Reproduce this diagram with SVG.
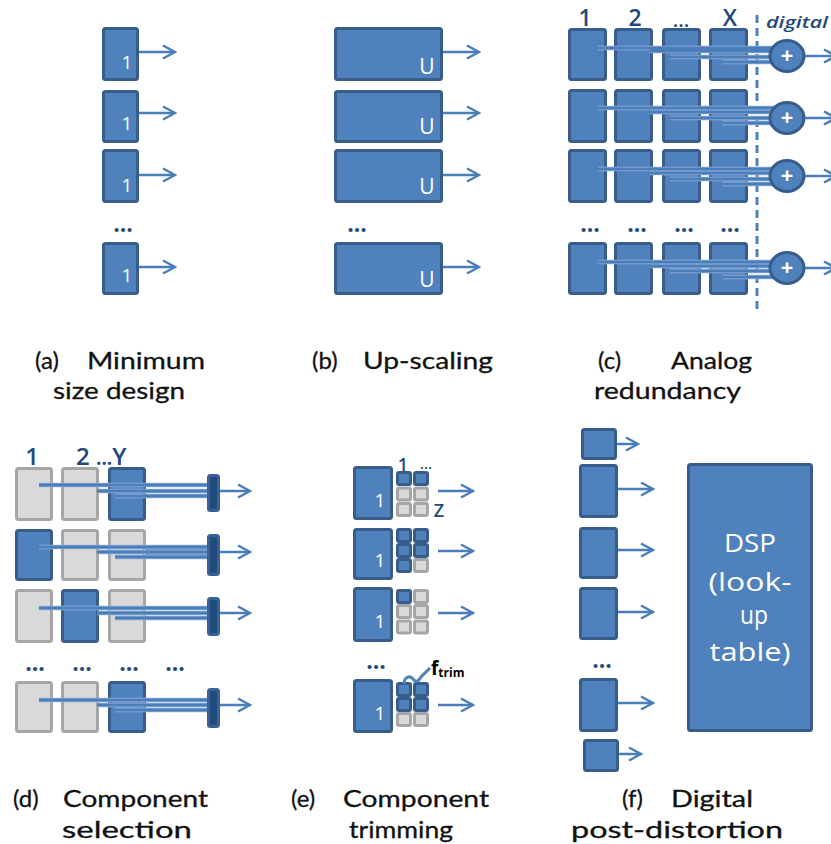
<svg xmlns="http://www.w3.org/2000/svg" width="831" height="844" viewBox="0 0 831 844">
<defs>
<marker id="ah" markerUnits="userSpaceOnUse" markerWidth="16" markerHeight="16" viewBox="0 0 16 16" refX="14" refY="8" orient="auto">
<path d="M2,1.5 L14,8 L2,14.5" fill="none" stroke="#4a7ebb" stroke-width="2.5" stroke-linejoin="miter"/>
</marker>
</defs>
<style>
.box{fill:#4f81bd;stroke:#385d8a;stroke-width:3}
.gbox{fill:#d9d9d9;stroke:#a6a6a6;stroke-width:3}
.bar{fill:#234a7e;stroke:#3a6196;stroke-width:3}
.sum{fill:#4f81bd;stroke:#385d8a;stroke-width:3}
.arr{stroke:#4a7ebb;stroke-width:2.5;fill:none;marker-end:url(#ah)}
.wu{stroke:#9bb5da;stroke-width:4.5;fill:none}
.w{stroke:#4a7ebb;stroke-width:3;fill:none}
.lbl{font-family:"Open Sans","Liberation Sans",sans-serif;fill:#1f497d;font-weight:600}
.in{font-family:"Open Sans","Liberation Sans",sans-serif;fill:#ffffff}
.dots{font-family:"Open Sans","Liberation Sans",sans-serif;font-weight:bold;fill:#1f497d;font-size:23px}
.cap{font-family:Lato,"Open Sans","Liberation Sans",sans-serif;font-size:24px;font-weight:normal;fill:#111111;stroke:#111111;stroke-width:0.3}
</style>

<!-- (a) Minimum size design -->
<g id="panel-a">
<g id="a1"><rect class="box" x="103.5" y="28.5" width="34" height="51" rx="2"/><text class="in" x="127" y="69" font-size="19" text-anchor="middle">1</text></g>
<g id="a2"><rect class="box" x="103.5" y="91.5" width="34" height="50" rx="2"/><text class="in" x="127" y="130" font-size="19" text-anchor="middle">1</text></g>
<g id="a3"><rect class="box" x="103.5" y="150.5" width="34" height="51" rx="2"/><text class="in" x="127" y="192" font-size="19" text-anchor="middle">1</text></g>
<text class="dots" x="123" y="232" text-anchor="middle">...</text>
<g id="a4"><rect class="box" x="103.5" y="243.5" width="34" height="50" rx="2"/><text class="in" x="127" y="282" font-size="19" text-anchor="middle">1</text></g>
</g>

<!-- (b) Up-scaling -->
<g id="panel-b">
<g id="b1"><rect class="box" x="335.5" y="28.5" width="106" height="51" rx="2"/><text class="in" x="427" y="74" font-size="21" text-anchor="middle">U</text></g>
<g id="b2"><rect class="box" x="335.5" y="91.5" width="106" height="50" rx="2"/><text class="in" x="427" y="134" font-size="21" text-anchor="middle">U</text></g>
<g id="b3"><rect class="box" x="335.5" y="150.5" width="106" height="51" rx="2"/><text class="in" x="427" y="194" font-size="21" text-anchor="middle">U</text></g>
<text class="dots" x="357" y="232" text-anchor="middle">...</text>
<g id="b4"><rect class="box" x="335.5" y="243.5" width="106" height="50" rx="2"/><text class="in" x="427" y="287" font-size="21" text-anchor="middle">U</text></g>
</g>

<!-- (c) Analog redundancy -->
<g id="panel-c">
<text class="lbl" x="585" y="26" font-size="23" text-anchor="middle">1</text>
<text class="lbl" x="635" y="26" font-size="23" text-anchor="middle">2</text>
<text class="lbl" x="681" y="27" font-size="20" font-weight="bold" text-anchor="middle">...</text>
<text class="lbl" x="730" y="26" font-size="23" text-anchor="middle">X</text>
<text class="lbl" x="766" y="28" font-size="17" font-weight="bold" font-style="italic" textLength="62" lengthAdjust="spacingAndGlyphs">digital</text>
<g id="c-r1">
<rect class="box" x="569.5" y="29.5" width="36" height="50" rx="2"/><rect class="box" x="615.5" y="29.5" width="36" height="50" rx="2"/><rect class="box" x="663.5" y="29.5" width="36" height="50" rx="2"/><rect class="box" x="710.5" y="29.5" width="36" height="50" rx="2"/>
</g>
<g id="c-r2">
<rect class="box" x="569.5" y="90.5" width="36" height="51" rx="2"/><rect class="box" x="615.5" y="90.5" width="36" height="51" rx="2"/><rect class="box" x="663.5" y="90.5" width="36" height="51" rx="2"/><rect class="box" x="710.5" y="90.5" width="36" height="51" rx="2"/>
</g>
<g id="c-r3">
<rect class="box" x="569.5" y="150.5" width="36" height="51" rx="2"/><rect class="box" x="615.5" y="150.5" width="36" height="51" rx="2"/><rect class="box" x="663.5" y="150.5" width="36" height="51" rx="2"/><rect class="box" x="710.5" y="150.5" width="36" height="51" rx="2"/>
</g>
<text class="dots" x="590" y="232" text-anchor="middle">...</text>
<text class="dots" x="637" y="232" text-anchor="middle">...</text>
<text class="dots" x="684" y="232" text-anchor="middle">...</text>
<text class="dots" x="730" y="232" text-anchor="middle">...</text>
<g id="c-r4">
<rect class="box" x="569.5" y="243.5" width="36" height="50" rx="2"/><rect class="box" x="615.5" y="243.5" width="36" height="50" rx="2"/><rect class="box" x="663.5" y="243.5" width="36" height="50" rx="2"/><rect class="box" x="710.5" y="243.5" width="36" height="50" rx="2"/>
</g>
<line x1="757" y1="15" x2="757" y2="313" stroke="#4f81bd" stroke-width="3" stroke-dasharray="8 5"/>
</g>

<!-- (d) Component selection -->
<g id="panel-d">
<text class="lbl" x="32" y="465" font-size="24" text-anchor="middle">1</text>
<text class="lbl" x="76" y="465" font-size="24">2 <tspan font-size="19" font-weight="bold">...</tspan>Y</text>
<g id="d-r1"><rect class="gbox" x="16.5" y="468.5" width="35" height="51" rx="2"/><rect class="gbox" x="62.5" y="468.5" width="35" height="51" rx="2"/><rect class="box" x="109.5" y="468.5" width="35" height="51" rx="2"/></g>
<g id="d-r2"><rect class="box" x="16.5" y="530.5" width="35" height="49" rx="2"/><rect class="gbox" x="62.5" y="530.5" width="35" height="49" rx="2"/><rect class="gbox" x="109.5" y="530.5" width="35" height="49" rx="2"/></g>
<g id="d-r3"><rect class="gbox" x="16.5" y="590.5" width="35" height="51" rx="2"/><rect class="box" x="62.5" y="590.5" width="35" height="51" rx="2"/><rect class="gbox" x="109.5" y="590.5" width="35" height="51" rx="2"/></g>
<text class="dots" x="35" y="671" text-anchor="middle">...</text>
<text class="dots" x="82" y="671" text-anchor="middle">...</text>
<text class="dots" x="129" y="671" text-anchor="middle">...</text>
<text class="dots" x="175" y="671" text-anchor="middle">...</text>
<g id="d-r4"><rect class="gbox" x="16.5" y="682.5" width="35" height="49" rx="2"/><rect class="gbox" x="62.5" y="682.5" width="35" height="49" rx="2"/><rect class="box" x="109.5" y="682.5" width="35" height="49" rx="2"/></g>
</g>

<!-- (e) Component trimming -->
<g id="panel-e">
<text class="lbl" x="403" y="471" font-size="18" text-anchor="middle">1</text>
<text class="lbl" x="426" y="469" font-size="15" font-weight="bold" text-anchor="middle">...</text>
<g id="e1">
<rect class="box" x="354.5" y="467.5" width="37" height="51" rx="2"/><text class="in" x="380" y="507" font-size="19" text-anchor="middle">1</text>
<rect class="box" x="397.5" y="472.5" width="13" height="12" rx="1.5"/><rect class="box" x="414.5" y="472.5" width="13" height="12" rx="1.5"/>
<rect class="gbox" x="397.5" y="488" width="13" height="12" rx="1.5"/><rect class="gbox" x="414.5" y="488" width="13" height="12" rx="1.5"/>
<rect class="gbox" x="397.5" y="503.5" width="13" height="12" rx="1.5"/><rect class="gbox" x="414.5" y="503.5" width="13" height="12" rx="1.5"/>
</g>
<text class="lbl" x="439" y="517" font-size="18" text-anchor="middle">Z</text>
<g id="e2">
<rect class="box" x="354.5" y="529.5" width="37" height="49" rx="2"/><text class="in" x="380" y="567" font-size="19" text-anchor="middle">1</text>
<rect class="box" x="397.5" y="529.5" width="13" height="12" rx="1.5"/><rect class="box" x="414.5" y="529.5" width="13" height="12" rx="1.5"/>
<rect class="box" x="397.5" y="544.5" width="13" height="12" rx="1.5"/><rect class="box" x="414.5" y="544.5" width="13" height="12" rx="1.5"/>
<rect class="box" x="397.5" y="559.5" width="13" height="12" rx="1.5"/><rect class="gbox" x="414.5" y="559.5" width="13" height="12" rx="1.5"/>
</g>
<g id="e3">
<rect class="box" x="354.5" y="588.5" width="37" height="52" rx="2"/><text class="in" x="380" y="628" font-size="19" text-anchor="middle">1</text>
<rect class="box" x="397.5" y="590.5" width="13" height="12" rx="1.5"/><rect class="gbox" x="414.5" y="590.5" width="13" height="12" rx="1.5"/>
<rect class="gbox" x="397.5" y="605.5" width="13" height="12" rx="1.5"/><rect class="gbox" x="414.5" y="605.5" width="13" height="12" rx="1.5"/>
<rect class="gbox" x="397.5" y="621" width="13" height="12" rx="1.5"/><rect class="gbox" x="414.5" y="621" width="13" height="12" rx="1.5"/>
</g>
<text class="dots" x="376" y="669" text-anchor="middle">...</text>
<g id="e4">
<rect class="box" x="354.5" y="680.5" width="37" height="51" rx="2"/><text class="in" x="380" y="720" font-size="19" text-anchor="middle">1</text>
<rect class="box" x="397.5" y="683.5" width="13" height="12" rx="1.5"/><rect class="box" x="414.5" y="683.5" width="13" height="12" rx="1.5"/>
<rect class="box" x="397.5" y="698.5" width="13" height="12" rx="1.5"/><rect class="box" x="414.5" y="698.5" width="13" height="12" rx="1.5"/>
<rect class="gbox" x="397.5" y="713.5" width="13" height="12" rx="1.5"/><rect class="gbox" x="414.5" y="713.5" width="13" height="12" rx="1.5"/>
</g>
<path d="M404,684 C404,677 410,675 413,679 C416,683 419,681 421,677 L430,668" fill="none" stroke="#4f81bd" stroke-width="3"/>
<text x="431" y="675" font-family="'Open Sans','Liberation Sans',sans-serif" font-weight="bold" font-size="19" fill="#000">f<tspan font-size="12" dy="2">trim</tspan></text>
</g>

<!-- (f) Digital post-distortion -->
<g id="panel-f">
<g id="f1"><rect class="box" x="582.5" y="429.5" width="33" height="29" rx="2"/></g>
<g id="f2"><rect class="box" x="580.5" y="465.5" width="36" height="51" rx="2"/></g>
<g id="f3"><rect class="box" x="580.5" y="528.5" width="36" height="49" rx="2"/></g>
<g id="f4"><rect class="box" x="580.5" y="588.5" width="36" height="50" rx="2"/></g>
<text class="dots" x="602" y="668" text-anchor="middle">...</text>
<g id="f5"><rect class="box" x="580.5" y="679.5" width="36" height="51" rx="2"/></g>
<g id="f6"><rect class="box" x="584.5" y="740.5" width="33" height="30" rx="2"/></g>
<g id="dsp">
<rect class="box" x="688.5" y="464.5" width="123" height="266" rx="2"/>
<text class="in" x="750" y="552" font-size="25" text-anchor="middle" textLength="52" lengthAdjust="spacingAndGlyphs">DSP</text>
<text class="in" x="750" y="591" font-size="25" text-anchor="middle" textLength="83" lengthAdjust="spacingAndGlyphs">(look-</text>
<text class="in" x="754" y="624" font-size="25" text-anchor="middle" textLength="28" lengthAdjust="spacingAndGlyphs">up</text>
<text class="in" x="750" y="661" font-size="25" text-anchor="middle" textLength="81" lengthAdjust="spacingAndGlyphs">table)</text>
</g>
</g>

<!-- connectors -->
<g id="connectors">
<line class="arr" x1="139" y1="52" x2="175" y2="52"/>
<line class="arr" x1="139" y1="113" x2="175" y2="113"/>
<line class="arr" x1="139" y1="175" x2="175" y2="175"/>
<line class="arr" x1="139" y1="267" x2="175" y2="267"/>
<line class="arr" x1="443" y1="52" x2="479" y2="52"/>
<line class="arr" x1="443" y1="113" x2="479" y2="113"/>
<line class="arr" x1="443" y1="175" x2="479" y2="175"/>
<line class="arr" x1="443" y1="267" x2="479" y2="267"/>
<g>
<path class="wu" d="M598,48H775M650,51H775M670,57H775M722,62H775"/>
<path class="w" d="M598,48H775M650,51H775M670,57H775M722,62H775"/>
<path class="wu" d="M598,108H775M650,112H775M670,118H775M722,123H775"/>
<path class="w" d="M598,108H775M650,112H775M670,118H775M722,123H775"/>
<path class="wu" d="M598,169H775M650,173H775M670,179H775M722,184H775"/>
<path class="w" d="M598,169H775M650,173H775M670,179H775M722,184H775"/>
<path class="wu" d="M598,262H775M650,266H775M670,271H775M722,277H775"/>
<path class="w" d="M598,262H775M650,266H775M670,271H775M722,277H775"/>
</g>
<g id="sums">
<ellipse class="sum" cx="787" cy="56" rx="17" ry="15.5"/><text class="in" x="787" y="63" font-size="22" font-weight="bold" text-anchor="middle">+</text>
<ellipse class="sum" cx="787" cy="118" rx="17" ry="15.5"/><text class="in" x="787" y="125" font-size="22" font-weight="bold" text-anchor="middle">+</text>
<ellipse class="sum" cx="787" cy="176" rx="17" ry="15.5"/><text class="in" x="787" y="183" font-size="22" font-weight="bold" text-anchor="middle">+</text>
<ellipse class="sum" cx="787" cy="268" rx="17" ry="15.5"/><text class="in" x="787" y="275" font-size="22" font-weight="bold" text-anchor="middle">+</text>
</g>
<line class="arr" x1="805" y1="56" x2="836" y2="56"/>
<line class="arr" x1="805" y1="118" x2="836" y2="118"/>
<line class="arr" x1="805" y1="176" x2="836" y2="176"/>
<line class="arr" x1="805" y1="268" x2="836" y2="268"/>
<rect x="146" y="545" width="62" height="14" fill="#4a7ebb"/>
<path class="wu" d="M39,485H210M97,491H210M115,496H210"/>
<path class="w" d="M39,485H210M97,491H210M115,496H210"/>
<path class="wu" d="M39,547H210M97,552H210M115,557H210"/>
<path class="w" d="M39,547H210M97,552H210M115,557H210"/>
<path class="wu" d="M39,608H210M97,613H210M115,618H210"/>
<path class="w" d="M39,608H210M97,613H210M115,618H210"/>
<path class="wu" d="M39,700H210M97,705H210M115,710H210"/>
<path class="w" d="M39,700H210M97,705H210M115,710H210"/>
<rect class="bar" x="208.5" y="475.5" width="10" height="35" rx="2"/>
<rect class="bar" x="208.5" y="535.5" width="10" height="39" rx="2"/>
<rect class="bar" x="208.5" y="598.5" width="10" height="36" rx="2"/>
<rect class="bar" x="208.5" y="689.5" width="10" height="37" rx="2"/>
<line class="arr" x1="220" y1="491" x2="250" y2="491"/>
<line class="arr" x1="220" y1="552" x2="250" y2="552"/>
<line class="arr" x1="220" y1="613" x2="250" y2="613"/>
<line class="arr" x1="220" y1="705" x2="250" y2="705"/>
<line class="arr" x1="438" y1="491" x2="473" y2="491"/>
<line class="arr" x1="438" y1="551" x2="473" y2="551"/>
<line class="arr" x1="438" y1="613" x2="473" y2="613"/>
<line class="arr" x1="438" y1="705" x2="473" y2="705"/>
<line class="arr" x1="617" y1="444" x2="638" y2="444"/>
<line class="arr" x1="618" y1="489" x2="653" y2="489"/>
<line class="arr" x1="618" y1="550" x2="653" y2="550"/>
<line class="arr" x1="618" y1="612" x2="653" y2="612"/>
<line class="arr" x1="618" y1="703" x2="653" y2="703"/>
<line class="arr" x1="619" y1="754" x2="641" y2="754"/>
</g>

<!-- captions -->
<g id="captions">
<text class="cap" y="369"><tspan x="35">(a)</tspan><tspan x="87" textLength="118" lengthAdjust="spacingAndGlyphs">Minimum</tspan></text>
<text class="cap" x="53" y="399" textLength="132" lengthAdjust="spacingAndGlyphs">size design</text>
<text class="cap" y="369"><tspan x="312">(b)</tspan><tspan x="363" textLength="130" lengthAdjust="spacingAndGlyphs">Up-scaling</tspan></text>
<text class="cap" y="369"><tspan x="598">(c)</tspan><tspan x="671" textLength="81" lengthAdjust="spacingAndGlyphs">Analog</tspan></text>
<text class="cap" x="594" y="399" textLength="147" lengthAdjust="spacingAndGlyphs">redundancy</text>
<text class="cap" y="807"><tspan x="13">(d)</tspan><tspan x="63" textLength="145" lengthAdjust="spacingAndGlyphs">Component</tspan></text>
<text class="cap" x="62" y="838" textLength="130" lengthAdjust="spacingAndGlyphs">selection</text>
<text class="cap" y="807"><tspan x="291">(e)</tspan><tspan x="343" textLength="146" lengthAdjust="spacingAndGlyphs">Component</tspan></text>
<text class="cap" x="349" y="838" textLength="104" lengthAdjust="spacingAndGlyphs">trimming</text>
<text class="cap" y="807"><tspan x="622">(f)</tspan><tspan x="671" textLength="82" lengthAdjust="spacingAndGlyphs">Digital</tspan></text>
<text class="cap" x="571" y="838" textLength="212" lengthAdjust="spacingAndGlyphs">post-distortion</text>
</g>
</svg>
